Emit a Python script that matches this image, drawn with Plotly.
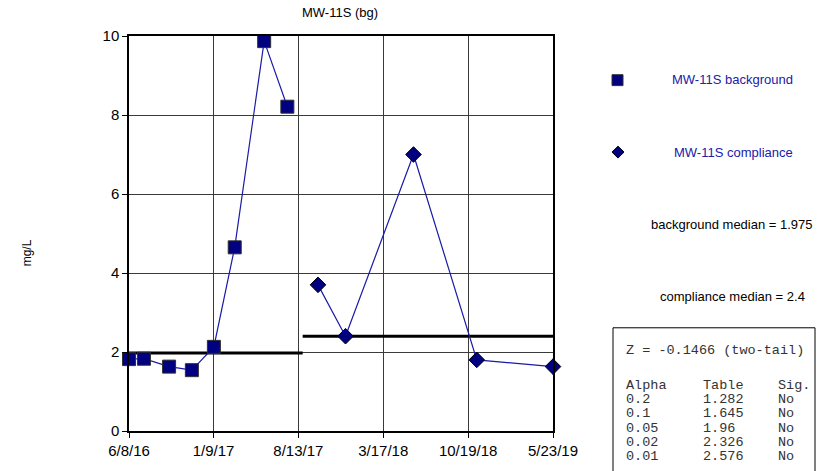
import plotly.graph_objects as go
import pandas as pd

# ---- data ----
bg_dates = ["2016-06-08", "2016-07-16", "2016-09-18", "2016-11-15",
            "2017-01-10", "2017-03-04", "2017-05-18", "2017-07-16"]
bg_values = [1.82, 1.83, 1.63, 1.54, 2.13, 4.65, 9.87, 8.21]

cp_dates = ["2017-10-02", "2017-12-11", "2018-06-02", "2018-11-10", "2019-05-23"]
cp_values = [3.70, 2.40, 7.00, 1.80, 1.63]

bg_median = 1.975
cp_median = 2.4

x_ticks = ["2016-06-08", "2017-01-09", "2017-08-13", "2018-03-17", "2018-10-19", "2019-05-23"]
y_ticks = [0, 2, 4, 6, 8, 10]

z_text = "Z = -0.1466 (two-tail)"
table_header = ["Alpha", "Table", "Sig."]
alpha_vals = ["0.2", "0.1", "0.05", "0.02", "0.01"]
table_vals = ["1.282", "1.645", "1.96", "2.326", "2.576"]
sig_vals = ["No", "No", "No", "No", "No"]

title = "MW-11S (bg)"
y_title = "mg/L"
bg_name = "MW-11S background"
cp_name = "MW-11S compliance"

# ---- layout geometry (pixels) ----
W, H = 837, 471
L, R, T, B = 129, 553, 36, 434
pw, ph = R - L, B - T


def px(x):
    return (x - L) / pw


def py(y):
    return (B - y) / ph


split = pd.Timestamp(bg_dates[-1]) + (pd.Timestamp(cp_dates[0]) - pd.Timestamp(bg_dates[-1])) / 2

line_col = "#1a1aa8"
fill_col = "#000080"
sans = "Liberation Sans, Arial, sans-serif"
mono = "Courier New, Liberation Mono, monospace"

fig = go.Figure()
fig.add_trace(go.Scatter(x=[x_ticks[0], split], y=[bg_median, bg_median], mode="lines",
                         line=dict(color="black", width=3), showlegend=False, hoverinfo="skip"))
fig.add_trace(go.Scatter(x=[split, x_ticks[-1]], y=[cp_median, cp_median], mode="lines",
                         line=dict(color="black", width=3), showlegend=False, hoverinfo="skip"))
fig.add_trace(go.Scatter(x=bg_dates, y=bg_values, mode="lines+markers", name=bg_name,
                         line=dict(color=line_col, width=1.2),
                         marker=dict(symbol="square", size=13, color=fill_col,
                                     line=dict(color="#303030", width=1)),
                         cliponaxis=False, showlegend=False))
fig.add_trace(go.Scatter(x=cp_dates, y=cp_values, mode="lines+markers", name=cp_name,
                         line=dict(color=line_col, width=1.2),
                         marker=dict(symbol="diamond", size=12, color=fill_col,
                                     line=dict(color="black", width=1)),
                         cliponaxis=False, showlegend=False))

shapes = []
# legend keys
shapes.append(dict(type="rect", xref="paper", yref="paper",
                   x0=px(612), x1=px(623), y0=py(86), y1=py(75),
                   fillcolor=fill_col, line=dict(color="#303030", width=1)))
cx, cy, r = 618, 153, 6
shapes.append(dict(type="path", xref="paper", yref="paper",
                   path=f"M {px(cx - r)} {py(cy)} L {px(cx)} {py(cy - r)} L {px(cx + r)} {py(cy)} L {px(cx)} {py(cy + r)} Z",
                   fillcolor=fill_col, line=dict(color="black", width=1)))
# table box
shapes.append(dict(type="rect", xref="paper", yref="paper",
                   x0=px(613), x1=px(815), y0=py(475), y1=py(330),
                   fillcolor="white", line=dict(color="black", width=1)))

ann = []


def text(x, y, s, size=13, color="black", family=sans, xanchor="center", angle=0, align="center"):
    ann.append(dict(x=px(x), y=py(y), xref="paper", yref="paper", text=s, showarrow=False,
                    xanchor=xanchor, yanchor="middle", textangle=angle, align=align,
                    font=dict(size=size, color=color, family=family)))


text(340, 12, title, size=13)
text(27, 255, y_title, size=12, angle=-90)
text(732, 80, bg_name, size=13, color="#2020a8")
text(733, 153, cp_name, size=13, color="#2020a8")
text(732, 226, f"background median = {bg_median}", size=13)
text(732, 298, f"compliance median = {cp_median}", size=13)

tcol = "#333333"
text(624, 353, z_text, size=13.5, color=tcol, family=mono, xanchor="left", align="left")
cols_x = [624, 701, 776]
columns = [[table_header[0]] + alpha_vals, [table_header[1]] + table_vals, [table_header[2]] + sig_vals]
for cx_, col in zip(cols_x, columns):
    body = "<br>".join(f'<span style="font-size:13.5px">{v}</span>' for v in col)
    text(cx_, 424, body, size=10.9, color=tcol, family=mono, xanchor="left", align="left")

fig.update_layout(
    width=W, height=H,
    margin=dict(l=L, r=W - R, t=T, b=H - B, pad=0),
    paper_bgcolor="white", plot_bgcolor="white",
    shapes=shapes, annotations=ann,
    showlegend=False,
    font=dict(family=sans, size=15, color="black"),
)
fig.update_xaxes(type="date", range=[x_ticks[0], x_ticks[-1]], tickvals=x_ticks,
                 tickformat="%-m/%-d/%y", showgrid=True, gridcolor="#3a3a3a", gridwidth=1,
                 showline=True, linecolor="black", linewidth=1.5, mirror=True,
                 ticks="outside", ticklen=5, tickcolor="black",
                 tickfont=dict(size=15, family=sans), zeroline=False)
fig.update_yaxes(range=[0, 10], tickvals=y_ticks, showgrid=True, gridcolor="#3a3a3a", gridwidth=1,
                 showline=True, linecolor="black", linewidth=1.5, mirror=True,
                 ticks="outside", ticklen=5, tickcolor="black",
                 tickfont=dict(size=15, family=sans), zeroline=False)

fig.write_html("out.html", post_script="document.body.style.margin='0';",
               config={"displayModeBar": False})
